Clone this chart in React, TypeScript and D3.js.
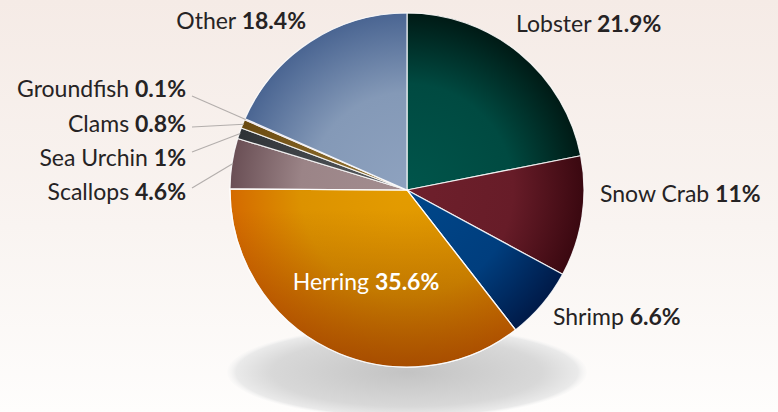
import React from 'react';
import * as d3 from 'd3';

// ---- Data ----
const categories = ['Lobster', 'Snow Crab', 'Shrimp', 'Herring', 'Scallops', 'Sea Urchin', 'Clams', 'Groundfish', 'Other'];
const shares = [21.9, 11, 6.6, 35.6, 4.6, 1, 0.8, 0.1, 18.4];
const shareLabels = ['21.9%', '11%', '6.6%', '35.6%', '4.6%', '1%', '0.8%', '0.1%', '18.4%'];

// ---- Styling / layout ----
const W = 778;
const H = 412;
const CX = 407;
const CY = 190;
const R = 177;
const FONT = 'Lato, "Open Sans", sans-serif';
const TEXT_COLOR = '#262324';

const sliceStops: Record<string, [number, string][]> = {
  Lobster: [[0, '#00554b'], [0.6, '#004a41'], [1, '#001a15']],
  'Snow Crab': [[0, '#6f202c'], [0.6, '#671c28'], [1, '#3a0810']],
  Shrimp: [[0, '#00478a'], [0.6, '#003e7e'], [1, '#001a48']],
  Herring: [[0, '#e49c00'], [0.6, '#dc9200'], [1, '#d46a00']],
  Scallops: [[0, '#a38e90'], [0.6, '#9b8487'], [1, '#6a4f55']],
  'Sea Urchin': [[0, '#5c6064'], [1, '#2e3236']],
  Clams: [[0, '#9c7c3a'], [1, '#6a4a10']],
  Groundfish: [[0, '#862086'], [1, '#5a0a5a']],
  Other: [[0, '#8ea2bf'], [0.55, '#8499b7'], [1, '#4a6592']],
};

type LabelPos = { x: number; y: number; anchor: 'start' | 'end' | 'middle'; white?: boolean; leaderFrom?: [number, number] };
const labelLayout: Record<string, LabelPos> = {
  Lobster: { x: 516, y: 32, anchor: 'start' },
  'Snow Crab': { x: 600, y: 202, anchor: 'start' },
  Shrimp: { x: 553, y: 325, anchor: 'start' },
  Herring: { x: 366, y: 290, anchor: 'middle', white: true },
  Scallops: { x: 186, y: 200, anchor: 'end', leaderFrom: [192, 188] },
  'Sea Urchin': { x: 186, y: 166, anchor: 'end', leaderFrom: [192, 152] },
  Clams: { x: 186, y: 132, anchor: 'end', leaderFrom: [192, 127] },
  Groundfish: { x: 186, y: 97, anchor: 'end', leaderFrom: [192, 96] },
  Other: { x: 306, y: 29, anchor: 'end' },
};

const slug = (s: string) => s.replace(/\s+/g, '-').toLowerCase();

export default function App() {
  const rows = categories.map((c, i) => ({ name: c, value: shares[i], label: shareLabels[i] }));
  const pie = d3.pie<any>().value((d: any) => d.value).sort(null).startAngle(0).endAngle(2 * Math.PI);
  const arcs = pie(rows);
  const arc = d3.arc<any>().innerRadius(0).outerRadius(R);

  const pointAt = (angle: number, r: number): [number, number] => [
    CX + r * Math.sin(angle),
    CY - r * Math.cos(angle),
  ];

  return (
    <svg width={W} height={H} style={{ position: 'fixed', left: 0, top: 0 }} xmlns="http://www.w3.org/2000/svg">
      <defs>
        <linearGradient id="bg" x1="0" y1="0" x2="0" y2="1">
          <stop offset="0" stopColor="#f5ebe6" />
          <stop offset="0.55" stopColor="#f9f4f1" />
          <stop offset="1" stopColor="#fefdfc" />
        </linearGradient>
        <radialGradient id="shadow" cx="0.5" cy="0.5" r="0.5">
          <stop offset="0" stopColor="#c3c3c3" />
          <stop offset="0.75" stopColor="#d8d8d8" />
          <stop offset="0.95" stopColor="#eaeaea" />
          <stop offset="1" stopColor="#f4f4f4" stopOpacity="0.2" />
        </radialGradient>
        {categories.map((c) => (
          <radialGradient key={c} id={`g-${slug(c)}`} gradientUnits="userSpaceOnUse" cx={0} cy={0} r={R}>
            {sliceStops[c].map(([o, col], k) => (
              <stop key={k} offset={o} stopColor={col} />
            ))}
          </radialGradient>
        ))}
        <linearGradient id="herring-shade" gradientUnits="userSpaceOnUse" x1="0" y1={20} x2="0" y2={R}>
          <stop offset="0" stopColor="#7a3000" stopOpacity="0" />
          <stop offset="1" stopColor="#7a3000" stopOpacity="0.5" />
        </linearGradient>
      </defs>

      <rect x={0} y={0} width={W} height={H} fill="url(#bg)" />
      <ellipse cx={CX} cy={CY + 182} rx={180} ry={46} fill="url(#shadow)" />

      <g transform={`translate(${CX},${CY})`}>
        {arcs.map((a) => (
          <path
            key={a.data.name}
            d={arc(a) as string}
            fill={`url(#g-${slug(a.data.name)})`}
            stroke="#ffffff"
            strokeOpacity={0.85}
            strokeWidth={1.2}
            strokeLinejoin="round"
          />
        ))}
        {arcs
          .filter((a) => a.data.name === 'Herring')
          .map((a) => (
            <path key="hs" d={arc(a) as string} fill="url(#herring-shade)" stroke="#ffffff" strokeOpacity={0.85} strokeWidth={1.2} />
          ))}
      </g>

      {arcs.map((a) => {
        const pos = labelLayout[a.data.name];
        if (!pos || !pos.leaderFrom) return null;
        const mid = (a.startAngle + a.endAngle) / 2;
        const [ex, ey] = pointAt(mid, R - 1);
        return (
          <line
            key={`l-${a.data.name}`}
            x1={pos.leaderFrom[0]}
            y1={pos.leaderFrom[1]}
            x2={ex}
            y2={ey}
            stroke="#b3aeac"
            strokeWidth={1.1}
          />
        );
      })}

      {arcs.map((a) => {
        const pos = labelLayout[a.data.name];
        return (
          <text
            key={`t-${a.data.name}`}
            x={pos.x}
            y={pos.y}
            textAnchor={pos.anchor}
            fontFamily={FONT}
            fontSize={23}
            fill={pos.white ? '#ffffff' : TEXT_COLOR}
          >
            <tspan>{a.data.name} </tspan>
            <tspan fontWeight="bold">{a.data.label}</tspan>
          </text>
        );
      })}
    </svg>
  );
}
